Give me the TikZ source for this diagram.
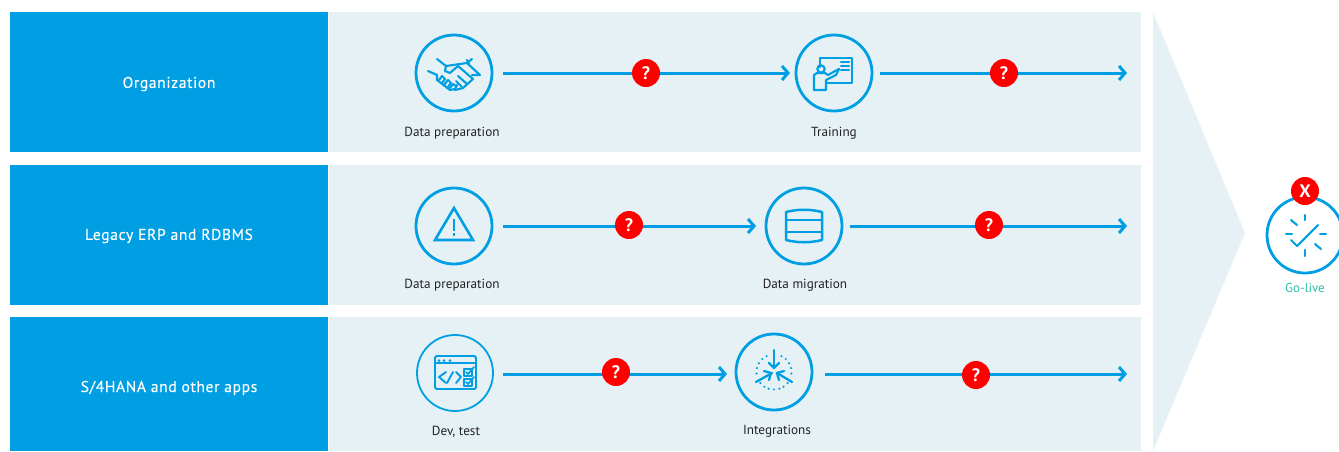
\documentclass[tikz,border=0pt]{standalone}
\usepackage{fontspec}
\setmainfont{PT Sans}
\newfontfamily\headfont[LetterSpace=4,FakeBold=0.25]{PT Sans}
\usetikzlibrary{arrows.meta}
\definecolor{blu}{HTML}{009FE3}
\definecolor{band}{HTML}{E6F1F6}
\definecolor{teal}{HTML}{2FC0A8}
\definecolor{lbl}{HTML}{222222}
\tikzset{
 x=1pt,y=-1pt,
 head/.style={fill=blu,draw=none,minimum width=318pt,inner sep=0},
 headtext/.style={text=white,inner sep=0,font=\headfont\fontsize{15.6}{17}\selectfont},
 bandbox/.style={fill=band,draw=none,minimum width=812pt,inner sep=0},
 ring/.style={circle,draw=blu,line width=2.8pt,minimum size=76pt,inner sep=0,outer sep=1pt},
 thinring/.style={ring,line width=1.8pt},
 lab/.style={text=lbl,font=\fontsize{13.2}{15}\selectfont,inner sep=0},
 q/.style={circle,fill=red,text=white,minimum size=28pt,inner sep=0,font=\bfseries\fontsize{18}{18}\selectfont},
 flow/.style={draw=blu,line width=3pt,-{Straight Barb[length=6pt,width=14pt,line width=3pt]}},
 ic/.style={draw=blu,line width=2.1pt,line cap=round,line join=round},
}
\begin{document}
\begin{tikzpicture}
\useasboundingbox (0,0) rectangle (1339,451);
\clip (0,0) rectangle (1339,451);
% bands
\node[bandbox,minimum height=140pt] (b1) at (735,82) {};
\node[bandbox,minimum height=140pt] (b2) at (735,235) {};
\node[bandbox,minimum height=134pt] (b3) at (735,384) {};
\node[head,minimum height=140pt] (h1) at (169,82) {};
\node[head,minimum height=140pt] (h2) at (169,235) {};
\node[head,minimum height=134pt] (h3) at (169,384) {};
\node[headtext] (h1t) at (169,84) {Organization};
\node[headtext] (h2t) at (169,236) {Legacy ERP and RDBMS};
\node[headtext] (h3t) at (169,388) {S/4HANA and other apps};
\fill[band] (1153,12) -- (1245,233) -- (1153,451) -- cycle;
% rings
\node[ring] (c1) at (454,73) {};
\node[ring] (c2) at (834,73) {};
\node[ring] (c3) at (454,226) {};
\node[ring] (c4) at (804,226) {};
\node[thinring] (c5) at (455,373) {};
\node[ring] (c6) at (774,372) {};
\node[ring] (c7) at (1305,235) {};
% labels
\node[lab] (l1) at (452,133) {Data preparation};
\node[lab] (l2) at (834,133) {Training};
\node[lab] (l3) at (452,285) {Data preparation};
\node[lab] (l4) at (805,285) {Data migration};
\node[lab] (l5) at (456,431.5) {Dev, test};
\node[lab] (l6) at (777,431) {Integrations};
\node[lab,text=teal,font=\fontsize{13}{15}\selectfont] (l7) at (1305,288) {Go-live};
% free ends
\coordinate (e1) at (1127,73);
\coordinate (e2) at (1127,226);
\coordinate (e3) at (1127,374);
\coordinate (a5) at (503,374);
\coordinate (b6) at (727,374);
\coordinate (a6) at (825,374);
% connectors
\draw[flow,shorten <=10pt,shorten >=5pt] (c1) -- (c2);
\draw[flow,shorten <=7pt] (c2) -- (e1);
\draw[flow,shorten <=10pt,shorten >=9pt] (c3) -- (c4);
\draw[flow,shorten <=7pt] (c4) -- (e2);
\draw[flow] (a5) -- (b6);
\draw[flow] (a6) -- (e3);
% question marks
\node[q] (q1) at (646,73) {?};
\node[q] (q2) at (1004,73) {?};
\node[q] (q3) at (629,225) {?};
\node[q] (q4) at (989,225) {?};
\node[q] (q5) at (616,372) {?};
\node[q] (q6) at (976,375) {?};
\node[q] (q7) at (1305,191) {X};
% handshake
\begin{scope}[shift={(c1.center)},ic]
 \draw (-26,-2) -- (-17,2);
 \draw (-17,-14) -- (-8,-7) -- (13,-10) -- (18,-14);
 \draw (13,-13) -- (15,-9);
 \draw (13,-10) -- (26,2) -- (18,2);
 \draw (-8,-7) -- (-9,-2) -- (-4,0) -- (4,-7) -- (19,6) -- (9,15) -- (1,17);
 \draw (-17,2) -- (-17,7) -- (-4,17) -- (1,16) -- (3,12);
 \draw (-15,7) -- (-12,3) -- (-9,6) -- (-12,10);
 \draw (-10,12) -- (-6,7) -- (-3,10) -- (-7,15);
 \draw (-4,15) -- (-1,11) -- (2,13);
 \draw (4,3) -- (13,11);
 \draw (2,8) -- (8,14);
\end{scope}
% training
\begin{scope}[shift={(c2.center)},ic]
 \draw (-14,-6) -- (-14,-15) -- (18,-15) -- (18,10) -- (-7,10);
 \draw (7,-11) -- (15,-11) (7,-7) -- (15,-7) (7,-3) -- (15,-3);
 \draw (-13,-4) circle (3.7);
 \draw (-20,17) -- (-20,2) -- (-17,0) -- (-9,0) -- (-6,2) -- (3,-3) -- (5,-4);
 \draw (-20,17) -- (-8,17) -- (-8,7) -- (2,2) -- (5,-4);
\end{scope}
% warning
\begin{scope}[shift={(c3.center)},ic,line width=2.6pt,line cap=butt]
 \draw[miter limit=4,line join=miter] (0,-18) -- (19,14) -- (-19,14) -- cycle;
 \draw (0,-7) -- (0,5);
 \draw (0,7) -- (0,10);
\end{scope}
% database
\begin{scope}[shift={(c4.center)},ic,line width=2.5pt]
 \draw (-18,-14) .. controls (-6,-17) and (6,-17) .. (18,-14) -- (18,14) .. controls (6,17) and (-6,17) .. (-18,14) -- cycle;
 \draw (-18,-6) -- (18,-6) (-18,6) -- (18,6);
\end{scope}
% dev test
\begin{scope}[shift={(c5.center)},ic,line width=1.9pt]
 \draw[rounded corners=1.5pt] (-20,-17) rectangle (21,16);
 \draw (-20,-10) -- (21,-10);
 \fill[blu,draw=none] (-16,-12.5) circle (1.5) (-11,-12.5) circle (1.5) (-5,-12.5) circle (1.5);
 \draw (-9,-1) -- (-16,4) -- (-9,10);
 \draw (-8,10) -- (-2,-1);
 \draw (1,-1) -- (6,4) -- (1,10);
\end{scope}
\begin{scope}[shift={(c5.center)},ic,line width=1.7pt]
 \draw[fill=band] (9,-4) rectangle (17,3);
 \draw[fill=band] (9,6) rectangle (17,13);
 \draw (11,-1) -- (13,1) -- (19,-6);
 \draw (11,9) -- (13,11) -- (19,4);
\end{scope}
% integrations
\begin{scope}[shift={(c6.center)},ic,line width=2.3pt]
 \draw (0,-22) -- (0,-4);
 \draw (-5,-9) -- (0,-4) -- (5,-9);
 \draw (-18,10) -- (-2,1);
 \draw (-10,-1) -- (-3,1) -- (-5,8);
 \draw (18,10) -- (3,1);
 \draw (10,-1) -- (3,1) -- (5,8);
 \foreach \a in {-65,-48,-30,-13,5,39,57,72,90,108,123,141,175,193,210,228,245}
  \fill[blu,draw=none] (\a:17.5) circle (1.2);
\end{scope}
% go-live
\begin{scope}[shift={(c7.center)},ic,line width=2.1pt]
 \draw (-14,5) -- (-8,11) -- (13,-10);
 \draw (0,-20) -- (0,-15) (0,15) -- (0,21);
 \draw (-19,-1) -- (-13,-1) (15,-1) -- (21,-1);
 \draw (-14,-15) -- (-8,-10) (10,9) -- (16,14);
\end{scope}
\end{tikzpicture}
\end{document}
